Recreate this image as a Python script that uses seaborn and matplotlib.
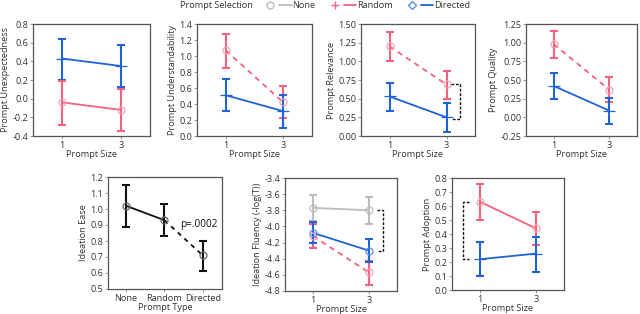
import matplotlib
matplotlib.use("Agg")
import matplotlib.pyplot as plt
from matplotlib.lines import Line2D
from matplotlib.legend_handler import HandlerTuple
import seaborn as sns
import pandas as pd
import numpy as np

sns.set_style("white")
plt.rcParams['font.family'] = ['Open Sans', 'DejaVu Sans']
FS = 6.6
plt.rcParams['font.size'] = FS

# ---------------- data ----------------
sizes = [1, 3]

unexp_directed = [0.43, 0.35]; unexp_directed_lo = [0.20, 0.12]; unexp_directed_hi = [0.64, 0.58]
unexp_random = [-0.04, -0.12]; unexp_random_lo = [-0.28, -0.35]; unexp_random_hi = [0.19, 0.10]

under_random = [1.07, 0.42]; under_random_lo = [0.85, 0.22]; under_random_hi = [1.27, 0.62]
under_directed = [0.51, 0.31]; under_directed_lo = [0.31, 0.10]; under_directed_hi = [0.71, 0.51]

relev_random = [1.20, 0.69]; relev_random_lo = [1.01, 0.50]; relev_random_hi = [1.39, 0.87]
relev_directed = [0.53, 0.25]; relev_directed_lo = [0.34, 0.06]; relev_directed_hi = [0.71, 0.44]

qual_random = [0.98, 0.37]; qual_random_lo = [0.80, 0.20]; qual_random_hi = [1.16, 0.54]
qual_directed = [0.42, 0.09]; qual_directed_lo = [0.25, -0.09]; qual_directed_hi = [0.59, 0.26]

ease_types = ["None", "Random", "Directed"]
ease_mean = [1.02, 0.93, 0.71]; ease_lo = [0.89, 0.83, 0.61]; ease_hi = [1.15, 1.03, 0.80]

flu_none = [-3.77, -3.80]; flu_none_lo = [-3.93, -3.97]; flu_none_hi = [-3.61, -3.64]
flu_directed = [-4.08, -4.30]; flu_directed_lo = [-4.21, -4.44]; flu_directed_hi = [-3.94, -4.15]
flu_random = [-4.12, -4.57]; flu_random_lo = [-4.27, -4.72]; flu_random_hi = [-3.97, -4.43]

adopt_random = [0.63, 0.44]; adopt_random_lo = [0.50, 0.32]; adopt_random_hi = [0.76, 0.56]
adopt_directed = [0.22, 0.26]; adopt_directed_lo = [0.10, 0.13]; adopt_directed_hi = [0.34, 0.38]

# ---------------- style ----------------
C_RANDOM = "#f5617e"
C_RANDOM_MK = "#f7a3b4"
C_DIRECTED = "#1f63d8"
C_NONE = "#bdbdbd"
C_BLACK = "#111111"
FRAME = "#555555"
TXT = "#333333"

W, H = 640, 314
fig = plt.figure(figsize=(6.4, 3.14), dpi=100)


def add_ax(x0, y0, x1, y1):
    return fig.add_axes([x0 / W, 1 - y1 / H, (x1 - x0) / W, (y1 - y0) / H])


def style_ax(ax, ylim, yticks, fmt, ylabel, xlabel="Prompt Size", xlim=(0, 4), xticks=(1, 3), xticklabels=("1", "3")):
    ax.set_xlim(*xlim)
    ax.set_ylim(*ylim)
    ax.set_yticks(yticks)
    ax.set_yticklabels([fmt.format(v) for v in yticks])
    ax.set_xticks(list(xticks))
    ax.set_xticklabels(list(xticklabels))
    ax.set_ylabel(ylabel, fontsize=FS, color=TXT, labelpad=1.5)
    ax.set_xlabel(xlabel, fontsize=FS, color=TXT, labelpad=0.3)
    ax.tick_params(axis="both", which="both", length=2.5, width=0.6, color="#888888",
                   labelsize=FS, labelcolor=TXT, pad=1, direction="out", bottom=True, left=True)
    for s in ax.spines.values():
        s.set_visible(True)
        s.set_color(FRAME)
        s.set_linewidth(0.9)
    ax.set_facecolor("white")


def series(ax, x, mean, lo, hi, color, ls="-", marker=None, mcolor=None, mk_size=5):
    df = pd.DataFrame({"x": x, "y": mean})
    sns.lineplot(data=df, x="x", y="y", ax=ax, color=color, linestyle=ls, linewidth=1.3,
                 errorbar=None, legend=False, zorder=3)
    mean = np.asarray(mean); lo = np.asarray(lo); hi = np.asarray(hi)
    ax.errorbar(x, mean, yerr=[mean - lo, hi - mean], fmt="none", ecolor=color,
                elinewidth=1.5, capsize=3.2, capthick=1.5, zorder=4)
    if marker is not None:
        ax.plot(x, mean, linestyle="none", marker=marker, markersize=mk_size,
                markerfacecolor="none", markeredgecolor=mcolor or color, markeredgewidth=0.9, zorder=5)
    ax.set_xlabel(""); ax.set_ylabel("")


def bracket(ax, x_start, x_end, y_top, y_bot):
    ax.plot([x_start, x_end, x_end, x_start], [y_top, y_top, y_bot, y_bot],
            color=C_BLACK, linestyle=(0, (2, 1.2)), linewidth=1.0, zorder=6, clip_on=False)


# ---- Panel 1: Unexpectedness ----
ax = add_ax(33, 24, 150, 136)
series(ax, sizes, unexp_directed, unexp_directed_lo, unexp_directed_hi, C_DIRECTED, "-", "_", C_DIRECTED, 8)
series(ax, sizes, unexp_random, unexp_random_lo, unexp_random_hi, C_RANDOM, "-", "o", C_RANDOM_MK)
style_ax(ax, (-0.4, 0.8), np.arange(-0.4, 0.81, 0.2), "{:.1f}", "Prompt Unexpectedness")

# ---- Panel 2: Understandability ----
ax = add_ax(197, 24, 312, 136)
series(ax, sizes, under_random, under_random_lo, under_random_hi, C_RANDOM, (0, (3, 2.5)), "o", C_RANDOM_MK)
series(ax, sizes, under_directed, under_directed_lo, under_directed_hi, C_DIRECTED, "-", "_", C_DIRECTED, 8)
style_ax(ax, (0, 1.4), np.arange(0, 1.41, 0.2), "{:.1f}", "Prompt Understandability")

# ---- Panel 3: Relevance ----
ax = add_ax(361, 24, 475, 136)
series(ax, sizes, relev_random, relev_random_lo, relev_random_hi, C_RANDOM, (0, (3, 2.5)), "o", C_RANDOM_MK)
series(ax, sizes, relev_directed, relev_directed_lo, relev_directed_hi, C_DIRECTED, "-", "_", C_DIRECTED, 8)
bracket(ax, 3.15, 3.48, relev_random[1], relev_directed[1] - 0.02)
style_ax(ax, (0, 1.5), np.arange(0, 1.51, 0.25), "{:.2f}", "Prompt Relevance")

# ---- Panel 4: Quality ----
ax = add_ax(526, 24, 637, 136)
series(ax, sizes, qual_random, qual_random_lo, qual_random_hi, C_RANDOM, (0, (3, 2.5)), "o", C_RANDOM_MK)
series(ax, sizes, qual_directed, qual_directed_lo, qual_directed_hi, C_DIRECTED, "-", "_", C_DIRECTED, 8)
style_ax(ax, (-0.25, 1.25), np.arange(-0.25, 1.26, 0.25), "{:.2f}", "Prompt Quality")

# ---- Panel 5: Ideation Ease ----
ax = add_ax(108, 177, 222, 289)
pos = np.arange(len(ease_types))
dfe = pd.DataFrame({"x": pos[:2], "y": ease_mean[:2]})
sns.lineplot(data=dfe, x="x", y="y", ax=ax, color=C_BLACK, linewidth=1.3, errorbar=None, zorder=3)
dfe2 = pd.DataFrame({"x": pos[1:], "y": ease_mean[1:]})
sns.lineplot(data=dfe2, x="x", y="y", ax=ax, color=C_BLACK, linewidth=1.3, linestyle=(0, (2.5, 2.5)),
             errorbar=None, zorder=3)
em = np.asarray(ease_mean)
ax.errorbar(pos, em, yerr=[em - np.asarray(ease_lo), np.asarray(ease_hi) - em], fmt="none",
            ecolor=C_BLACK, elinewidth=1.5, capsize=3.2, capthick=1.5, zorder=4)
ax.plot(pos, em, linestyle="none", marker="o", markersize=5, markerfacecolor="none",
        markeredgecolor="#666666", markeredgewidth=0.9, zorder=5)
ax.text(1.42, 0.905, "p=.0002", fontsize=7.2, color=C_BLACK, va="center", ha="left")
style_ax(ax, (0.5, 1.2), np.arange(0.5, 1.21, 0.1), "{:.1f}", "Ideation Ease", xlabel="Prompt Type",
         xlim=(-0.47, 2.5), xticks=pos, xticklabels=ease_types)

# ---- Panel 6: Ideation Fluency ----
ax = add_ax(285, 178, 397, 291)
series(ax, sizes, flu_none, flu_none_lo, flu_none_hi, C_NONE, "-", "o", C_NONE)
series(ax, sizes, flu_random, flu_random_lo, flu_random_hi, C_RANDOM, (0, (3, 2.5)), "o", C_RANDOM_MK)
series(ax, sizes, flu_directed, flu_directed_lo, flu_directed_hi, C_DIRECTED, "-", "o", "#5b8fe6")
bracket(ax, 3.3, 3.5, flu_none[1], flu_directed[1])
style_ax(ax, (-4.8, -3.4), np.arange(-4.8, -3.39, 0.2), "{:.1f}", "Ideation Fluency (-log(T))")

# ---- Panel 7: Prompt Adoption ----
ax = add_ax(452, 178, 564, 290)
series(ax, sizes, adopt_random, adopt_random_lo, adopt_random_hi, C_RANDOM, "-", "o", C_RANDOM_MK)
series(ax, sizes, adopt_directed, adopt_directed_lo, adopt_directed_hi, C_DIRECTED, "-", "_", C_DIRECTED, 8)
ax.plot([0.6, 0.4, 0.4, 0.6], [adopt_random[0], adopt_random[0], adopt_directed[0], adopt_directed[0]],
        color=C_BLACK, linestyle=(0, (2, 1.2)), linewidth=1.0, zorder=6)
style_ax(ax, (0, 0.8), np.arange(0, 0.81, 0.1), "{:.1f}", "Prompt Adoption")

# ---- Legend ----
fig.text(180 / W, 1 - 6 / H, "Prompt Selection", fontsize=FS, color=TXT, va="center", ha="left")
h_none = (Line2D([], [], marker="o", linestyle="none", markerfacecolor="none", markeredgecolor=C_NONE, markersize=5),
          Line2D([], [], color=C_NONE, linewidth=1.3))
h_rand = (Line2D([], [], marker="+", linestyle="none", color=C_RANDOM, markersize=6),
          Line2D([], [], color=C_RANDOM, linewidth=1.3))
h_dir = (Line2D([], [], marker="D", linestyle="none", markerfacecolor="none", markeredgecolor="#5b8fe6", markersize=4.5),
         Line2D([], [], color=C_DIRECTED, linewidth=1.3))
leg = fig.legend([h_none, h_rand, h_dir], ["None", "Random", "Directed"],
                 handler_map={tuple: HandlerTuple(ndivide=None, pad=0.3)},
                 loc="center left", bbox_to_anchor=(264 / W, 1 - 6 / H), ncol=3, frameon=False,
                 fontsize=FS, handlelength=3.0, handletextpad=0.1, columnspacing=1.4, borderpad=0, borderaxespad=0)
for t in leg.get_texts():
    t.set_color(TXT)

fig.savefig("out.png", dpi=100, facecolor="white")
